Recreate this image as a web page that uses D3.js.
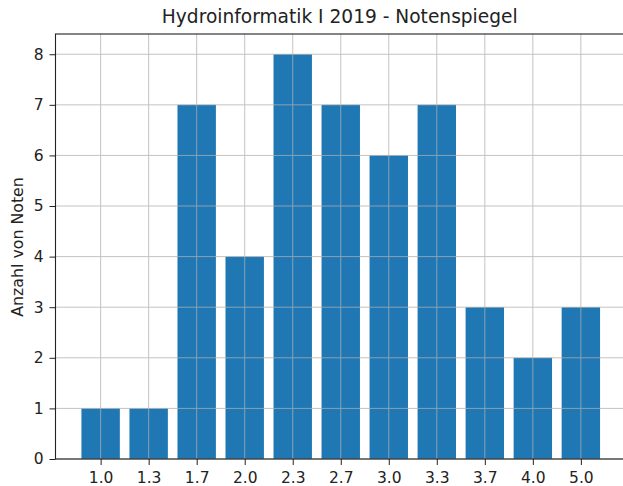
<!DOCTYPE html>
<html><head><meta charset="utf-8">
<script src="https://cdn.jsdelivr.net/npm/d3@7"></script>
<style>body{margin:0;background:#fff;} svg{display:block;font-family:"DejaVu Sans",sans-serif;}</style>
</head><body>
<svg id="c" width="623" height="486"></svg>
<script>
const categories = ["1.0","1.3","1.7","2.0","2.3","2.7","3.0","3.3","3.7","4.0","5.0"];
const counts = [1,1,7,4,8,7,6,7,3,2,3];
const yTicks = [0,1,2,3,4,5,6,7,8];
const title = "Hydroinformatik I 2019 - Notenspiegel";
const yLabel = "Anzahl von Noten";

const svg = d3.select("#c");
const L = 55.5, R = 626, T = 34, B = 459;
const x = d3.scaleLinear().domain([-0.94, categories.length - 1 + 0.94]).range([L, R]);
const y = d3.scaleLinear().domain([0, 8.4]).range([B, T]);
const bw = (x(0.4) - x(-0.4));

svg.append("g").selectAll("rect").data(counts).join("rect")
  .attr("x", (d,i) => x(i) - bw/2).attr("width", bw)
  .attr("y", d => y(d)).attr("height", d => y(0) - y(d))
  .attr("fill", "#1f77b4");

// grid
const grid = svg.append("g").attr("stroke", "#b0b0b0").attr("stroke-width", 1).attr("opacity", 0.75);
grid.selectAll("line.v").data(categories).join("line")
  .attr("x1", (d,i) => x(i)).attr("x2", (d,i) => x(i)).attr("y1", T).attr("y2", B);
grid.selectAll("line.h").data(yTicks).join("line")
  .attr("x1", L).attr("x2", R).attr("y1", d => y(d)).attr("y2", d => y(d));

// axes
const xAxis = d3.axisBottom(x).tickValues(d3.range(categories.length)).tickFormat(i => categories[i]).tickSize(6).tickPadding(4);
const gx = svg.append("g").attr("transform", `translate(0,${B})`).call(xAxis);
gx.selectAll("text").attr("y", 24).attr("dy", 0);
const yAxis = d3.axisLeft(y).tickValues(yTicks).tickFormat(d3.format("d")).tickSize(6).tickPadding(6);
const gy = svg.append("g").attr("transform", `translate(${L},0)`).call(yAxis);
[gx, gy].forEach(g => {
  g.select(".domain").remove();
  g.selectAll("text").attr("font-size", 15.5).attr("fill", "#222").attr("font-family", "DejaVu Sans");
  g.selectAll("line").attr("stroke", "#222");
});

// spines
svg.append("rect").attr("x", L).attr("y", T).attr("width", R - L).attr("height", B - T)
  .attr("fill", "none").attr("stroke", "#222").attr("stroke-width", 1.1);

svg.append("text").attr("x", (L + R) / 2 - 1).attr("y", 23).attr("text-anchor", "middle")
  .attr("font-size", 18.6).attr("fill", "#222").text(title);
svg.append("text").attr("transform", `translate(23,247) rotate(-90)`)
  .attr("text-anchor", "middle").attr("font-size", 15.8).attr("fill", "#222").text(yLabel);
</script>
</body></html>
